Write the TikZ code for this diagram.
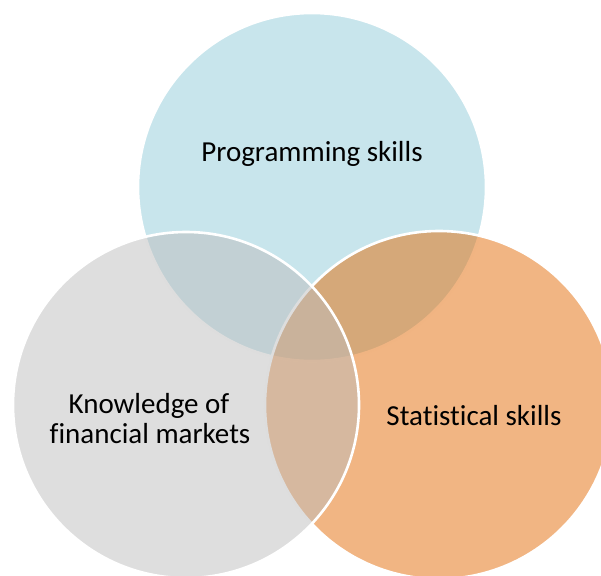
\documentclass[tikz,border=0pt]{standalone}
\usepackage{fontspec}
\setmainfont{Carlito}[Ligatures=NoCommon]
\definecolor{topfill}{RGB}{145,203,217}
\definecolor{rightfill}{RGB}{227,107,7}
\definecolor{leftfill}{RGB}{189,189,189}
\tikzset{
  venn/.style={draw=white, line width=2.6pt, fill opacity=0.5},
  lbl/.style={font=\fontsize{29}{30}\selectfont, text=black, align=center, inner sep=0pt},
}
\begin{document}
\begin{tikzpicture}[x=1pt,y=-1pt]
\useasboundingbox (0,0) rectangle (601,575);
\begin{scope}
\clip (0,0) rectangle (601,575);
\path[venn, fill=topfill] (312,187) circle[radius=174pt];
\path[venn, fill=rightfill] (439,405) circle[radius=174pt];
\path[venn, fill=leftfill] (186,405) circle[radius=173pt];
\end{scope}
\node[lbl, anchor=base] (prog) at (312,161) {Programming skills};
\node[lbl, anchor=base] (stat) at (474,425) {Statistical skills};
\node[lbl, anchor=base] (know1) at (149,413) {Knowledge of};
\node[lbl, anchor=base] (know2) at (150,443) {financial markets};
\end{tikzpicture}
\end{document}
